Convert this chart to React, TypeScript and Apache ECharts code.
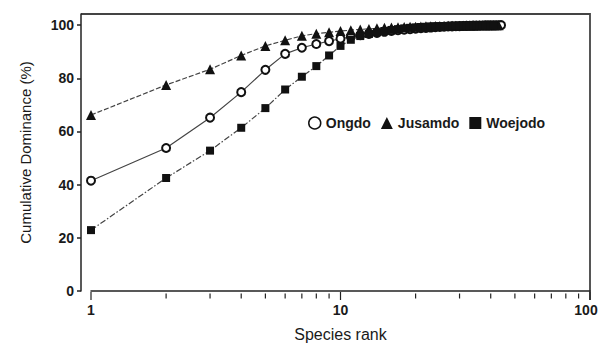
import React, { useEffect, useRef } from "react";
import * as echarts from "echarts";

const seriesNames = ["Ongdo", "Jusamdo", "Woejodo"];

// Cumulative dominance (%) by species rank (rank = index + 1)
const ongdo = [
  41.5, 53.8, 65.2, 74.8, 83.2, 89.2, 91.5, 92.9, 94.0, 94.9,
  95.6, 96.2, 96.7, 97.1, 97.5, 97.8, 98.1, 98.3, 98.5, 98.7,
  98.9, 99.0, 99.1, 99.2, 99.3, 99.4, 99.5, 99.55, 99.6, 99.65,
  99.7, 99.75, 99.8, 99.82, 99.85, 99.88, 99.9, 99.92, 99.94, 99.95,
  99.97, 99.98, 99.99, 100,
];
const jusamdo = [
  66.2, 77.5, 83.4, 88.6, 92.2, 94.3, 96.0, 96.8, 97.3, 97.8,
  98.1, 98.4, 98.6, 98.8, 99.0, 99.1, 99.2, 99.3, 99.4, 99.45,
  99.5, 99.55, 99.6, 99.65, 99.7, 99.72, 99.75, 99.78, 99.8, 99.82,
  99.85, 99.87, 99.89, 99.9, 99.92, 99.93, 99.95, 99.96, 99.97, 99.98,
  99.99, 99.995, 100,
];
const woejodo = [
  22.9, 42.5, 52.8, 61.4, 68.8, 75.8, 80.6, 84.6, 88.6, 92.2,
  94.5, 95.9, 96.7, 97.3, 97.8, 98.2, 98.5, 98.8, 99.0, 99.15,
  99.3, 99.4, 99.5, 99.57, 99.63, 99.68, 99.73, 99.77, 99.8, 99.84,
  99.87, 99.9, 99.92, 99.94, 99.96, 99.97, 99.98, 99.99, 99.995, 100,
  100,
];

const yTickValues = [0, 20, 40, 60, 80, 100];
const xMajorTicks = [1, 10, 100];
const xMinorTicks = [2, 3, 4, 5, 6, 7, 8, 9, 20, 30, 40, 50, 60, 70, 80, 90];

const toPairs = (arr: number[]) => arr.map((v, i) => [i + 1, v]);

export default function App() {
  const ref = useRef<HTMLDivElement>(null);

  useEffect(() => {
    if (!ref.current) return;
    const chart = echarts.init(ref.current, undefined, { renderer: "svg" });
    const textColor = "#1a1a1a";
    const lineColor = "#444";
    const markColor = "#111";

    const tickData = [
      ...xMajorTicks.map((v) => [v, 4]),
      ...xMinorTicks.map((v) => [v, 2.5]),
    ];

    const labelBase = { color: textColor, fontSize: 14, fontWeight: "bold" };

    chart.setOption({
      animation: false,
      backgroundColor: "#fff",
      textStyle: { fontFamily: "Liberation Sans, Arial, sans-serif" },
      grid: {
        left: 91,
        right: 8,
        top: 14,
        bottom: 53,
        containLabel: false,
        outerBoundsMode: "none",
      },
      legend: {
        left: 303,
        top: 111,
        itemWidth: 12,
        itemHeight: 12,
        itemGap: 10,
        textStyle: { color: textColor, fontSize: 14, fontWeight: "bold" },
        data: [
          {
            name: "Ongdo",
            icon: "circle",
            itemStyle: { color: "#fff", borderColor: markColor, borderWidth: 1.5 },
          },
          { name: "Jusamdo", icon: "triangle", itemStyle: { color: markColor, borderWidth: 0 } },
          { name: "Woejodo", icon: "rect", itemStyle: { color: markColor, borderWidth: 0 } },
        ],
      },
      xAxis: {
        type: "log",
        logBase: 10,
        min: 1,
        max: 100,
        offset: 5,
        name: "Species rank",
        nameLocation: "middle",
        nameGap: 30,
        nameTextStyle: { fontSize: 16, color: textColor },
        axisLine: { show: true, lineStyle: { color: "#222", width: 1.5 } },
        axisTick: { show: false },
        axisLabel: {
          ...labelBase,
          margin: 7,
          showMaxLabel: true,
          hideOverlap: false,
          formatter: (v: number) => (v >= 100 ? "{m|" + v + "}" : String(v)),
          rich: { m: { ...labelBase, padding: [0, 8, 0, 0] } },
        },
        splitLine: { show: false },
        minorTick: { show: false },
      },
      yAxis: {
        type: "value",
        min: 0,
        max: 104.2,
        interval: 20,
        offset: 10,
        name: "Cumulative Dominance (%)",
        nameLocation: "middle",
        nameGap: 48,
        nameTextStyle: { fontSize: 15, color: textColor },
        axisLine: { show: true, lineStyle: { color: "#222", width: 1.5 } },
        axisTick: {
          show: true,
          length: 4,
          customValues: yTickValues,
          lineStyle: { color: "#222", width: 1.5 },
        },
        axisLabel: {
          ...labelBase,
          margin: 7,
          customValues: yTickValues,
        },
        splitLine: { show: false },
      },
      graphic: [
        {
          type: "polyline",
          silent: true,
          shape: { points: [[81, 14], [590, 14], [590, 300]] },
          style: { stroke: "#444", lineWidth: 1.8, fill: null },
        },
      ],
      series: [
        {
          name: "Ongdo",
          type: "line",
          data: toPairs(ongdo),
          symbol: "emptyCircle",
          symbolSize: 8,
          itemStyle: { color: markColor, borderColor: markColor, borderWidth: 1.5 },
          lineStyle: { color: lineColor, width: 1.2, type: "solid" },
          z: 3,
        },
        {
          name: "Jusamdo",
          type: "line",
          data: toPairs(jusamdo),
          symbol: "triangle",
          symbolSize: 10,
          itemStyle: { color: markColor, borderWidth: 0 },
          lineStyle: { color: lineColor, width: 1.2, type: [5, 2] },
          z: 3,
        },
        {
          name: "Woejodo",
          type: "line",
          data: toPairs(woejodo),
          symbol: "rect",
          symbolSize: 8,
          itemStyle: { color: markColor, borderWidth: 0 },
          lineStyle: { color: lineColor, width: 1.2, type: [6, 2, 1.5, 2] },
          z: 4,
        },
        {
          name: "xticks",
          type: "custom",
          silent: true,
          clip: false,
          data: tickData,
          renderItem: (params: any, api: any) => {
            const x = api.value(0);
            const len = api.value(1);
            const p = api.coord([x, 0]);
            const y = p[1] + 5;
            return {
              type: "line",
              shape: { x1: p[0], y1: y - len, x2: p[0], y2: y + len },
              style: { stroke: "#222", lineWidth: 1.2 },
            };
          },
          z: 5,
        },
      ],
    });

    return () => chart.dispose();
  }, []);

  return (
    <div
      ref={ref}
      style={{ position: "absolute", left: 0, top: 0, width: 598, height: 344 }}
    />
  );
}
